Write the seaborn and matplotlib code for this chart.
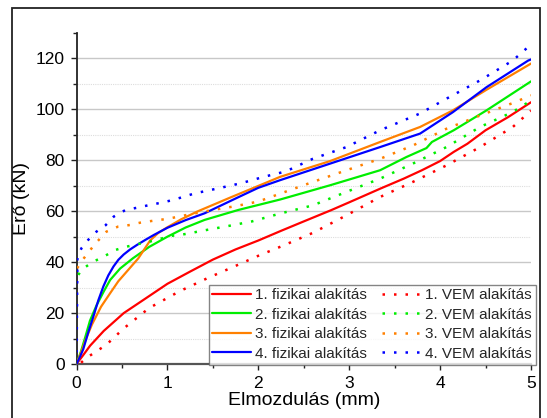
import numpy as np
import pandas as pd
import matplotlib
matplotlib.use("Agg")
import matplotlib.pyplot as plt
from matplotlib.patches import Rectangle
from matplotlib.ticker import MultipleLocator
import seaborn as sns

# ---- data ----
phys1_x = [0, 0.074, 0.15, 0.3, 0.52, 0.75, 1.0, 1.25, 1.5, 1.75, 2.0, 2.25, 2.5, 2.8, 3.0, 3.35, 3.6, 3.8, 4.0, 4.15, 4.3, 4.5, 4.75, 5.0]
phys1_y = [0, 3.5, 7.2, 13, 20, 25.5, 31.5, 36.3, 41, 45, 48.5, 52.3, 56, 60.4, 63.5, 69, 72.8, 76.1, 79.7, 83.3, 86.5, 91.8, 97, 102.8]

vem1_x = [0.05, 0.11, 0.33, 0.52, 0.8, 1.13, 1.44, 1.78, 2.0, 2.26, 2.6, 2.97, 3.34, 3.7, 4.07, 4.44, 4.8, 5.0]
vem1_y = [0.5, 2.4, 7.6, 14, 22, 28.5, 33.7, 39, 42.5, 46.3, 51.5, 58.4, 65.6, 71.5, 78, 85.2, 93.1, 99.5]

phys2_x = [0, 0.05, 0.1, 0.148, 0.22, 0.3, 0.37, 0.48, 0.62, 0.8, 1.0, 1.2, 1.41, 1.78, 2.24, 2.79, 3.34, 3.63, 3.85, 3.91, 4.15, 4.51, 5.0]
phys2_y = [0, 5, 11, 17, 23, 28.5, 33, 37.5, 41.5, 46, 50, 53.6, 56.6, 60.5, 64.6, 70.2, 76.1, 81.3, 84.8, 87.2, 91.8, 99.6, 111]

vem2_x = [0.02, 0.055, 0.17, 0.3, 0.43, 0.54, 0.69, 0.81, 1.04, 1.19, 1.44, 1.67, 1.93, 2.24, 2.6, 2.97, 3.34, 3.7, 4.07, 4.44, 4.8, 5.0]
vem2_y = [35, 37, 39.9, 42.2, 44.8, 46, 47.2, 48.1, 50.3, 51, 52.7, 54.2, 56, 59.1, 62.3, 67.6, 72.8, 78.7, 85.2, 93.1, 99, 103.5]

phys3_x = [0, 0.05, 0.1, 0.17, 0.27, 0.37, 0.46, 0.57, 0.68, 0.81, 0.9, 1.0, 1.15, 1.33, 1.7, 2.24, 2.79, 3.34, 3.78, 4.14, 4.51, 5.0]
phys3_y = [0, 4.5, 9.5, 15.5, 22.5, 27.8, 32.5, 37, 41.5, 48.5, 51.5, 53.7, 56.8, 59.9, 65.5, 73.5, 79.7, 87.2, 93.1, 99.6, 107.7, 118]

vem3_x = [0.007, 0.074, 0.2, 0.33, 0.46, 0.59, 0.7, 0.85, 1.0, 1.25, 1.5, 1.75, 2.0, 2.24, 2.6, 2.97, 3.34, 3.7, 4.07, 4.44, 4.8, 5.0]
vem3_y = [37.6, 41.2, 47, 52, 54, 54.6, 55.5, 56.3, 57, 58.8, 60.5, 62, 63.8, 66.9, 71.5, 76.1, 80.6, 85.8, 92.4, 97.6, 102.5, 105.5]

phys4_x = [0, 0.04, 0.074, 0.13, 0.185, 0.24, 0.296, 0.35, 0.407, 0.46, 0.519, 0.59, 0.667, 0.76, 0.852, 1.0, 1.2, 1.41, 1.75, 2.0, 2.24, 2.79, 3.34, 3.78, 4.14, 4.51, 4.97, 5.0]
phys4_y = [0, 3, 5.8, 12.5, 18.6, 25, 30.5, 34.8, 38.3, 40.9, 43, 45, 46.8, 48.8, 50.7, 53.5, 56.5, 59.2, 65, 69.2, 72.2, 78.7, 85.2, 90.5, 98.9, 108.7, 119.2, 119.6]

vem4_x = [0, 0.005, 0.01, 0.055, 0.13, 0.22, 0.32, 0.41, 0.54, 0.67, 0.81, 0.94, 1.06, 1.3, 1.56, 1.81, 2.07, 2.3, 2.6, 2.97, 3.34, 3.78, 4.07, 4.44, 4.8, 5.0]
vem4_y = [0, 20, 42, 45.5, 48.8, 52, 54.5, 57.9, 60.5, 61.4, 62.5, 63.4, 64.4, 67, 69, 71, 73.6, 75.6, 80.6, 85.2, 91.8, 98.4, 104.2, 111.4, 119.2, 125.5]

labels_phys = ["1. fizikai alakítás", "2. fizikai alakítás", "3. fizikai alakítás", "4. fizikai alakítás"]
labels_vem = ["1. VEM alakítás", "2. VEM alakítás", "3. VEM alakítás", "4. VEM alakítás"]
colors = ["#ff0000", "#00ee00", "#ff8000", "#0000ff"]

x_label = "Elmozdulás (mm)"
y_label = "Erő (kN)"

# ---- style ----
sns.set_theme(style="white")
plt.rcParams["font.family"] = ["Liberation Sans", "DejaVu Sans"]

fig = plt.figure(figsize=(5.47, 4.18), dpi=100)
ax = fig.add_axes([76.5 / 547, 1 - 364 / 418, (531 - 76.5) / 547, (364 - 33) / 418])

phys = [(phys1_x, phys1_y), (phys2_x, phys2_y), (phys3_x, phys3_y), (phys4_x, phys4_y)]
vem = [(vem1_x, vem1_y), (vem2_x, vem2_y), (vem3_x, vem3_y), (vem4_x, vem4_y)]

for (xs, ys), lab, c in zip(phys, labels_phys, colors):
    sns.lineplot(x=xs, y=ys, ax=ax, color=c, lw=1.6, label=lab,
                 sort=False, estimator=None, zorder=3)
for (xs, ys), lab, c in zip(vem, labels_vem, colors):
    sns.lineplot(x=xs, y=ys, ax=ax, color=c, lw=1.8, label=lab,
                 sort=False, estimator=None, zorder=3,
                 linestyle=(0, (1, 3.6)))

ax.set_xlim(0, 5)
ax.set_ylim(0, 130)
ax.xaxis.set_major_locator(MultipleLocator(1))
ax.xaxis.set_minor_locator(MultipleLocator(0.5))
ax.yaxis.set_major_locator(MultipleLocator(20))
ax.yaxis.set_minor_locator(MultipleLocator(10))
ax.set_yticks([0, 20, 40, 60, 80, 100, 120])

ax.grid(False)
for yv in [20, 40, 60, 80, 100, 120]:
    ax.axhline(yv, color="#c8c8c8", lw=1.0, zorder=1)
for yv in [10, 30, 50, 70, 90, 110]:
    ax.axhline(yv, color="#dddddd", lw=0.8, ls=(0, (1, 1)), zorder=1)

for s in ["top", "right"]:
    ax.spines[s].set_visible(False)
ax.spines["left"].set_color("#222222")
ax.spines["left"].set_linewidth(1.3)
ax.spines["bottom"].set_color("#555555")
ax.spines["bottom"].set_linewidth(1.6)

ax.tick_params(axis="both", which="major", direction="out", length=4.5, width=1.0,
               color="#222222", labelsize=12.5, pad=4, left=True, bottom=True)
ax.tick_params(axis="both", which="minor", direction="out", length=3, width=1.0,
               color="#222222", left=True, bottom=True)
for t in ax.get_xticklabels() + ax.get_yticklabels():
    t.set_color("black")

ax.set_xlabel(x_label, fontsize=14, labelpad=1, color="black")
ax.set_ylabel(y_label, fontsize=14, labelpad=4, color="black")

leg = ax.legend(ncol=2, loc="lower right", bbox_to_anchor=(1.01, -0.002),
                fontsize=11, frameon=True, fancybox=False, edgecolor="#666666",
                handlelength=2.5, handletextpad=0.3, columnspacing=1.0,
                labelspacing=0.36, borderpad=0.25, borderaxespad=0.0)
leg.get_frame().set_linewidth(1.0)
leg.set_zorder(5)

# outer frame around figure
fig.patches.append(Rectangle((12 / 547, -0.05), (540 - 12) / 547, (418 - 8) / 418 + 0.05,
                             transform=fig.transFigure, fill=False,
                             edgecolor="#222222", lw=1.3, zorder=10))

fig.savefig("out.png", dpi=100)
